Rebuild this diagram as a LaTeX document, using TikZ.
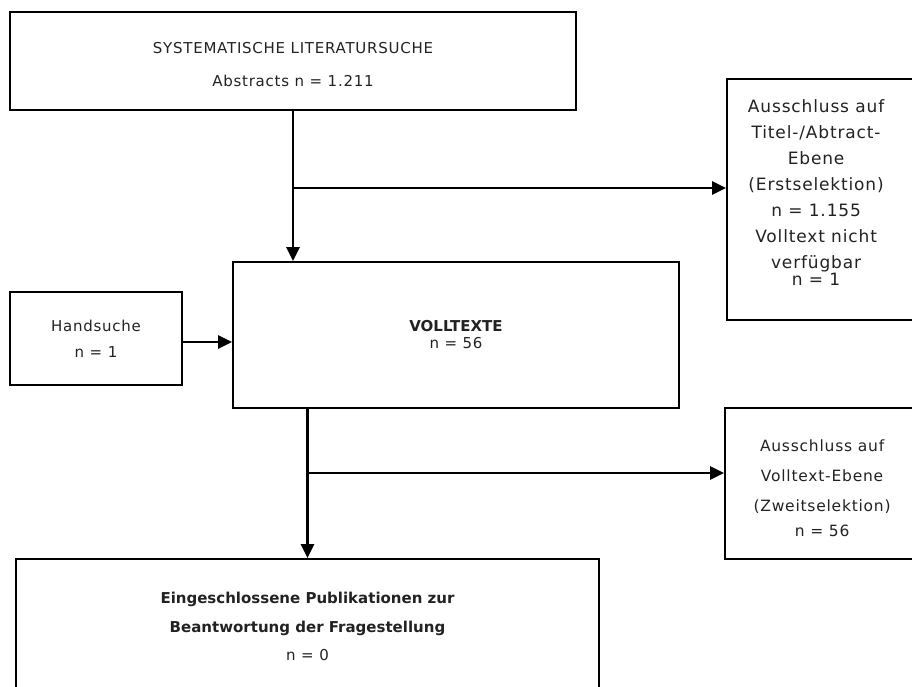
\documentclass[tikz,border=0pt]{standalone}
\usepackage{fontspec}
\setmainfont{DejaVu Sans}[LetterSpace=5, BoldFeatures={LetterSpace=0}]
\usepackage{tikz}
\usetikzlibrary{positioning,arrows.meta}
\definecolor{txtgray}{HTML}{222222}

\begin{document}
\begin{tikzpicture}[
  x=1pt, y=-1pt,
  font=\fontsize{15}{17}\selectfont,
  box/.style={rectangle, draw=black, line width=1.8pt, inner sep=0pt,
  align=center, text=txtgray},
  txt/.style={align=center, inner sep=0pt, text=txtgray},
  arr/.style={-{Triangle[length=14pt,width=13pt]}, line width=2.6pt},
]
\useasboundingbox (0,0) rectangle (912,686);
\clip (0,0) rectangle (912,686);

% boxes
\node[box, minimum width=566pt, minimum height=98pt] (lit) at (293,61)
  {\rule{0pt}{19pt}SYSTEMATISCHE LITERATURSUCHE\\[16pt]Abstracts n = 1.211};
\node[box, minimum width=446pt, minimum height=146pt] (voll) at (456,335)
  {\textbf{VOLLTEXTE}\\n = 56};
\node[box, minimum width=172pt, minimum height=93pt] (hand) at (96,338.5)
  {Handsuche\\[9pt]n = 1};
\node[box, minimum width=583pt, minimum height=134pt] (res) at (307.5,626)
  {\textbf{Eingeschlossene Publikationen zur}\\[12pt]\textbf{Beantwortung der Fragestellung}\\[11pt]n = 0};

% exclusion boxes (cut at the right edge)
\node[box, minimum width=213pt, minimum height=241pt] (aus1) at (833.5,199.5) {};
\node[txt, font=\fontsize{17}{17}\selectfont] (aus1txt) at ([xshift=90pt,yshift=7pt]aus1.west)
  {Ausschluss auf\\[9pt]Titel-/Abtract-\\[9pt]Ebene\\[9pt](Erstselektion)\\[9pt]n = 1.155\\[9pt]Volltext nicht\\[9pt]verfügbar\\n = 1};
\node[box, minimum width=215pt, minimum height=151pt] (aus2) at (832.5,483.5) {};
\node[txt, font=\fontsize{15.5}{17}\selectfont] (aus2txt) at ([xshift=98pt,yshift=-4.5pt]aus2.west)
  {Ausschluss auf\\[13pt]Volltext-Ebene\\[13pt](Zweitselektion)\\[8pt]n = 56};

% connectors
\coordinate (split1) at (293,188);
\coordinate (split2) at (307,473);
\draw[arr] (lit.south) -- (lit.south |- voll.north);
\draw[arr] (split1) -- (split1 -| aus1.west);
\draw[arr] ([yshift=-3.5pt]hand.east) -- ([yshift=-3.5pt]hand.east -| voll.west);
\draw[arr] (voll.south -| res.north) -- (res.north);
\draw[arr] (split2) -- (split2 -| aus2.west);
\end{tikzpicture}
\end{document}
